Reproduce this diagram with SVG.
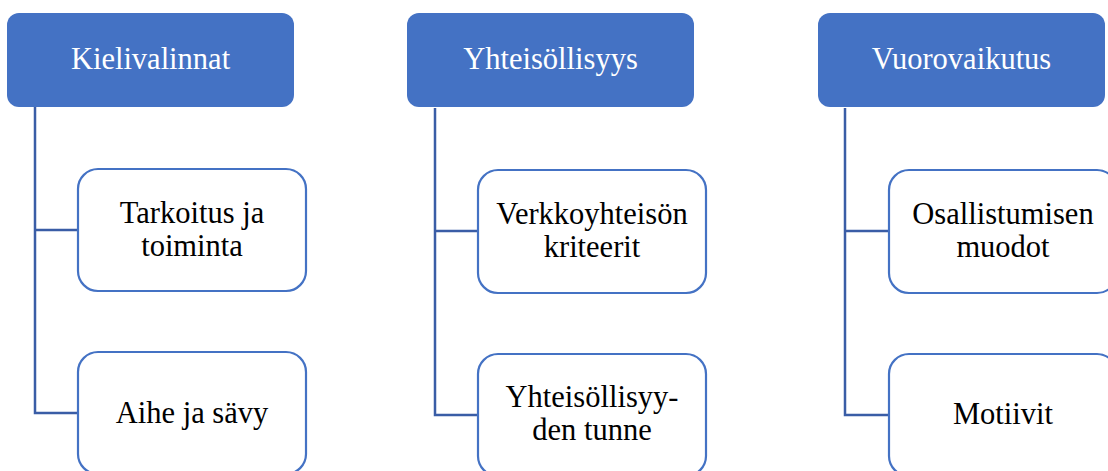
<svg xmlns="http://www.w3.org/2000/svg" width="1108" height="471" viewBox="0 0 1108 471">
<style>
.hdr{fill:#4472C4;stroke:none}
.child{fill:#FFFFFF;stroke:#4472C4;stroke-width:2.2}
.conn{fill:none;stroke:#3A5DA6;stroke-width:2.5}
.ht{font-family:'Liberation Serif','Times New Roman',serif;font-size:30.5px;fill:#FFFFFF;text-anchor:middle}
.ct{font-family:'Liberation Serif','Times New Roman',serif;font-size:30.5px;fill:#000000;text-anchor:middle}
</style>
<rect width="1108" height="471" fill="#FFFFFF"/>
<g id="connectors">
<path class="conn" d="M35 107 V413 H78 M35 230 H78"/>
<path class="conn" d="M435 108 V415 H478 M435 231 H478"/>
<path class="conn" d="M845 108 V415 H889 M845 231 H889"/>
</g>
<g id="kielivalinnat"><rect class="hdr" x="7" y="13" width="287" height="94" rx="12"/><text class="ht" x="150.5" y="69">Kielivalinnat</text></g>
<g id="yhteisollisyys"><rect class="hdr" x="407" y="13" width="287" height="94" rx="12"/><text class="ht" x="550.5" y="69">Yhteisöllisyys</text></g>
<g id="vuorovaikutus"><rect class="hdr" x="818" y="13" width="287" height="94" rx="12"/><text class="ht" x="961.5" y="69">Vuorovaikutus</text></g>
<g id="tarkoitus"><rect class="child" x="78" y="169" width="228" height="122" rx="20"/><text class="ct" x="192" y="223">Tarkoitus ja</text><text class="ct" x="192" y="255.5">toiminta</text></g>
<g id="aihe"><rect class="child" x="78" y="352" width="228" height="122" rx="20"/><text class="ct" x="192" y="423">Aihe ja sävy</text></g>
<g id="verkkoyhteison"><rect class="child" x="478" y="170" width="228" height="123" rx="20"/><text class="ct" x="592" y="224">Verkkoyhteisön</text><text class="ct" x="592" y="256.5">kriteerit</text></g>
<g id="yhteisollisyyden"><rect class="child" x="478" y="354" width="228" height="122" rx="20"/><text class="ct" x="592" y="407">Yhteisöllisyy-</text><text class="ct" x="592" y="439.5">den tunne</text></g>
<g id="osallistumisen"><rect class="child" x="889" y="170" width="228" height="123" rx="20"/><text class="ct" x="1003" y="224">Osallistumisen</text><text class="ct" x="1003" y="256.5">muodot</text></g>
<g id="motiivit"><rect class="child" x="889" y="354" width="228" height="122" rx="20"/><text class="ct" x="1003" y="424">Motiivit</text></g>
</svg>
